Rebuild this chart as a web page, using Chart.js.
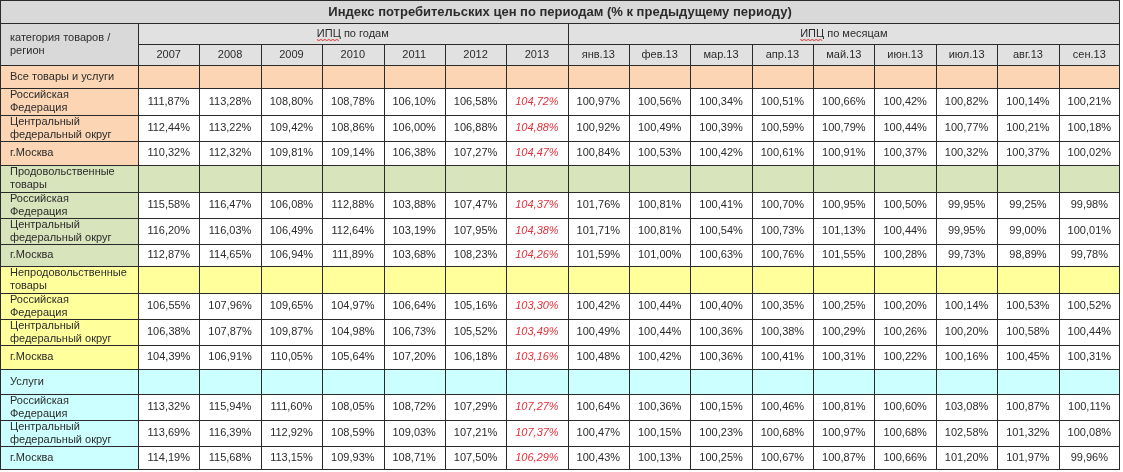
<!DOCTYPE html>
<html>
<head>
<meta charset="utf-8">
<script src="https://cdn.jsdelivr.net/npm/chart.js@4"></script>
<style>
  body { margin: 0; background: #ffffff; }
  #wrap { width: 1123px; height: 472px; }
</style>
</head>
<body>
<div id="wrap"><canvas id="cpiTable" width="1123" height="472"></canvas></div>
<script>
// Данные таблицы
const title = 'Индекс потребительских цен по периодам (% к предыдущему периоду)';
const headerLabel = 'категория товаров / регион';
const yearsHeader = 'ИПЦ по годам';
const monthsHeader = 'ИПЦ по месяцам';
const years = ['2007', '2008', '2009', '2010', '2011', '2012', '2013'];
const months = ['янв.13', 'фев.13', 'мар.13', 'апр.13', 'май.13', 'июн.13', 'июл.13', 'авг.13', 'сен.13'];
const groupNames = ['Все товары и услуги', 'Продовольственные товары', 'Непродовольственные товары', 'Услуги'];
const regionNames = ['Российская Федерация', 'Центральный федеральный округ', 'г.Москва'];

const allGoods = [
    [111.87, 113.28, 108.80, 108.78, 106.10, 106.58, 104.72, 100.97, 100.56, 100.34, 100.51, 100.66, 100.42, 100.82, 100.14, 100.21],
    [112.44, 113.22, 109.42, 108.86, 106.00, 106.88, 104.88, 100.92, 100.49, 100.39, 100.59, 100.79, 100.44, 100.77, 100.21, 100.18],
    [110.32, 112.32, 109.81, 109.14, 106.38, 107.27, 104.47, 100.84, 100.53, 100.42, 100.61, 100.91, 100.37, 100.32, 100.37, 100.02]
];
const foodGoods = [
    [115.58, 116.47, 106.08, 112.88, 103.88, 107.47, 104.37, 101.76, 100.81, 100.41, 100.70, 100.95, 100.50, 99.95, 99.25, 99.98],
    [116.20, 116.03, 106.49, 112.64, 103.19, 107.95, 104.38, 101.71, 100.81, 100.54, 100.73, 101.13, 100.44, 99.95, 99.00, 100.01],
    [112.87, 114.65, 106.94, 111.89, 103.68, 108.23, 104.26, 101.59, 101.00, 100.63, 100.76, 101.55, 100.28, 99.73, 98.89, 99.78]
];
const nonFoodGoods = [
    [106.55, 107.96, 109.65, 104.97, 106.64, 105.16, 103.30, 100.42, 100.44, 100.40, 100.35, 100.25, 100.20, 100.14, 100.53, 100.52],
    [106.38, 107.87, 109.87, 104.98, 106.73, 105.52, 103.49, 100.49, 100.44, 100.36, 100.38, 100.29, 100.26, 100.20, 100.58, 100.44],
    [104.39, 106.91, 110.05, 105.64, 107.20, 106.18, 103.16, 100.48, 100.42, 100.36, 100.41, 100.31, 100.22, 100.16, 100.45, 100.31]
];
const services = [
    [113.32, 115.94, 111.60, 108.05, 108.72, 107.29, 107.27, 100.64, 100.36, 100.15, 100.46, 100.81, 100.60, 103.08, 100.87, 100.11],
    [113.69, 116.39, 112.92, 108.59, 109.03, 107.21, 107.37, 100.47, 100.15, 100.23, 100.68, 100.97, 100.68, 102.58, 101.32, 100.08],
    [114.19, 115.68, 113.15, 109.93, 108.71, 107.50, 106.29, 100.43, 100.13, 100.25, 100.67, 100.87, 100.66, 101.20, 101.97, 99.96]
];
const groupValues = [allGoods, foodGoods, nonFoodGoods, services];

// Оформление
const groupColors = ['#fcd5b4', '#d8e4bc', '#ffff9c', '#ccffff'];
const titleColor = '#d9d9d9';
const headColor = '#e1e1e1';
const lineColor = '#2a2a2a';
const textColor = '#2b2b2b';
const redColor = '#e3313c';
const redColumn = 6;
const FONT = '"Liberation Sans", Arial, sans-serif';

// Размеры строк и столбцов (в единицах шкал)
const labelWidth = 138;
const valueWidth = 61.375;
const rowHeights = [23, 21, 21, 23, 27, 26, 24, 27, 26, 26, 22, 27, 26, 26, 24, 25, 26, 26, 24];

const colEdges = [0, labelWidth];
for (let i = 0; i < years.length + months.length; i++) colEdges.push(colEdges[colEdges.length - 1] + valueWidth);
const rowEdges = [0];
rowHeights.forEach(h => rowEdges.push(rowEdges[rowEdges.length - 1] + h));
const totalW = colEdges[colEdges.length - 1];
const totalH = rowEdges[rowEdges.length - 1];

// Строки тела таблицы
const bodyRows = [];
groupNames.forEach((g, gi) => {
    bodyRows.push({ label: g, group: gi, values: null });
    regionNames.forEach((r, ri) => bodyRows.push({ label: r, group: gi, values: groupValues[gi][ri] }));
});
const headerRows = 3;

function fmt(v) {
    return v.toFixed(2).replace('.', ',') + '%';
}

// Наборы данных: по точке на каждую ячейку со значением
const datasets = [];
bodyRows.forEach((row, i) => {
    if (!row.values) return;
    const r = headerRows + i;
    datasets.push({
        label: row.label,
        values: row.values,
        pointRadius: 0,
        pointHoverRadius: 0,
        data: row.values.map((v, j) => ({
            x: (colEdges[j + 1] + colEdges[j + 2]) / 2,
            y: (rowEdges[r] + rowEdges[r + 1]) / 2
        }))
    });
});

function wrapText(ctx, text, maxWidth) {
    const words = text.split(' ');
    const lines = [];
    let line = '';
    words.forEach(w => {
        const test = line ? line + ' ' + w : w;
        if (ctx.measureText(test).width > maxWidth && line) {
            lines.push(line);
            line = w;
        } else {
            line = test;
        }
    });
    lines.push(line);
    return lines;
}

const tablePlugin = {
    id: 'tablePlugin',
    beforeDatasetsDraw(chart) {
        const { ctx, scales: { x, y } } = chart;
        const px = v => x.getPixelForValue(v);
        const py = v => y.getPixelForValue(v);
        const snap = p => Math.round(p) + 0.5;
        const fill = (c0, c1, r0, r1, color) => {
            ctx.fillStyle = color;
            ctx.fillRect(px(colEdges[c0]), py(rowEdges[r0]), px(colEdges[c1]) - px(colEdges[c0]), py(rowEdges[r1]) - py(rowEdges[r0]));
        };
        const nCols = colEdges.length - 1;
        const firstMonth = 1 + years.length;

        ctx.save();
        // Фон
        fill(0, nCols, 0, 1, titleColor);
        fill(0, 1, 1, 3, titleColor);
        fill(1, nCols, 1, 3, headColor);
        bodyRows.forEach((row, i) => {
            const r = headerRows + i;
            const color = groupColors[row.group];
            if (row.values) {
                fill(0, 1, r, r + 1, color);
                fill(1, nCols, r, r + 1, '#ffffff');
            } else {
                fill(0, nCols, r, r + 1, color);
            }
        });

        // Линии
        ctx.strokeStyle = lineColor;
        ctx.lineWidth = 1;
        ctx.beginPath();
        const hLine = (c0, c1, r) => {
            const yy = snap(py(rowEdges[r]));
            ctx.moveTo(px(colEdges[c0]), yy);
            ctx.lineTo(px(colEdges[c1]), yy);
        };
        const vLine = (c, r0, r1) => {
            const xx = snap(px(colEdges[c]));
            ctx.moveTo(xx, py(rowEdges[r0]));
            ctx.lineTo(xx, py(rowEdges[r1]));
        };
        for (let r = 1; r < rowEdges.length - 1; r++) {
            if (r === 2) hLine(1, nCols, r);
            else hLine(0, nCols, r);
        }
        vLine(1, 1, rowEdges.length - 1);
        vLine(firstMonth, 1, rowEdges.length - 1);
        for (let c = 2; c < nCols; c++) {
            if (c !== firstMonth) vLine(c, 2, rowEdges.length - 1);
        }
        ctx.stroke();
        ctx.strokeRect(snap(px(0)), snap(py(0)), Math.round(px(totalW) - px(0)) - 1, Math.round(py(totalH) - py(0)) - 1);

        // Заголовки
        ctx.fillStyle = textColor;
        ctx.textBaseline = 'middle';
        ctx.textAlign = 'center';
        ctx.font = 'bold 13px ' + FONT;
        ctx.fillText(title, (px(0) + px(totalW)) / 2, (py(rowEdges[0]) + py(rowEdges[1])) / 2 + 1);

        ctx.font = '11px ' + FONT;
        const midRow1 = (py(rowEdges[1]) + py(rowEdges[2])) / 2;
        const spans = [[1, firstMonth, yearsHeader], [firstMonth, nCols, monthsHeader]];
        spans.forEach(([c0, c1, text]) => {
            const cx = (px(colEdges[c0]) + px(colEdges[c1])) / 2;
            ctx.fillText(text, cx, midRow1);
            // волнистое подчёркивание "ИПЦ"
            const full = ctx.measureText(text).width;
            const w = ctx.measureText('ИПЦ').width;
            const sx = cx - full / 2;
            ctx.save();
            ctx.strokeStyle = '#e03030';
            ctx.lineWidth = 1;
            ctx.beginPath();
            for (let k = 0; k <= w; k += 2) {
                const yy = midRow1 + 6 + ((k / 2) % 2 ? 1 : 0);
                if (k === 0) ctx.moveTo(sx + k, yy); else ctx.lineTo(sx + k, yy);
            }
            ctx.stroke();
            ctx.restore();
        });

        const midRow2 = (py(rowEdges[2]) + py(rowEdges[3])) / 2;
        years.concat(months).forEach((t, j) => {
            ctx.fillText(t, (px(colEdges[j + 1]) + px(colEdges[j + 2])) / 2, midRow2);
        });

        // Подписи строк
        ctx.textAlign = 'left';
        const labelX = px(colEdges[0]) + 10;
        const maxW = 110;
        const drawLabel = (text, r0, r1) => {
            const lines = wrapText(ctx, text, maxW);
            const cy = (py(rowEdges[r0]) + py(rowEdges[r1])) / 2;
            const lh = 13;
            lines.forEach((l, k) => {
                ctx.fillText(l, labelX, cy + (k - (lines.length - 1) / 2) * lh);
            });
        };
        drawLabel(headerLabel, 1, 3);
        bodyRows.forEach((row, i) => drawLabel(row.label, headerRows + i, headerRows + i + 1));
        ctx.restore();
    },
    afterDatasetsDraw(chart) {
        const { ctx } = chart;
        ctx.save();
        ctx.textAlign = 'center';
        ctx.textBaseline = 'middle';
        chart.data.datasets.forEach((ds, di) => {
            const meta = chart.getDatasetMeta(di);
            meta.data.forEach((pt, j) => {
                if (j === redColumn) {
                    ctx.font = 'italic 11px ' + FONT;
                    ctx.fillStyle = redColor;
                } else {
                    ctx.font = '11px ' + FONT;
                    ctx.fillStyle = textColor;
                }
                ctx.fillText(fmt(ds.values[j]), pt.x, pt.y);
            });
        });
        ctx.restore();
    }
};

new Chart(document.getElementById('cpiTable'), {
    type: 'scatter',
    data: { datasets },
    options: {
        responsive: false,
        devicePixelRatio: 1,
        animation: false,
        events: [],
        layout: { padding: { left: 0, top: 0, right: 3, bottom: 2 } },
        scales: {
            x: { type: 'linear', min: 0, max: totalW, display: false },
            y: { type: 'linear', min: 0, max: totalH, reverse: true, display: false }
        },
        plugins: {
            legend: { display: false },
            tooltip: { enabled: false }
        }
    },
    plugins: [tablePlugin]
});
</script>
</body>
</html>
